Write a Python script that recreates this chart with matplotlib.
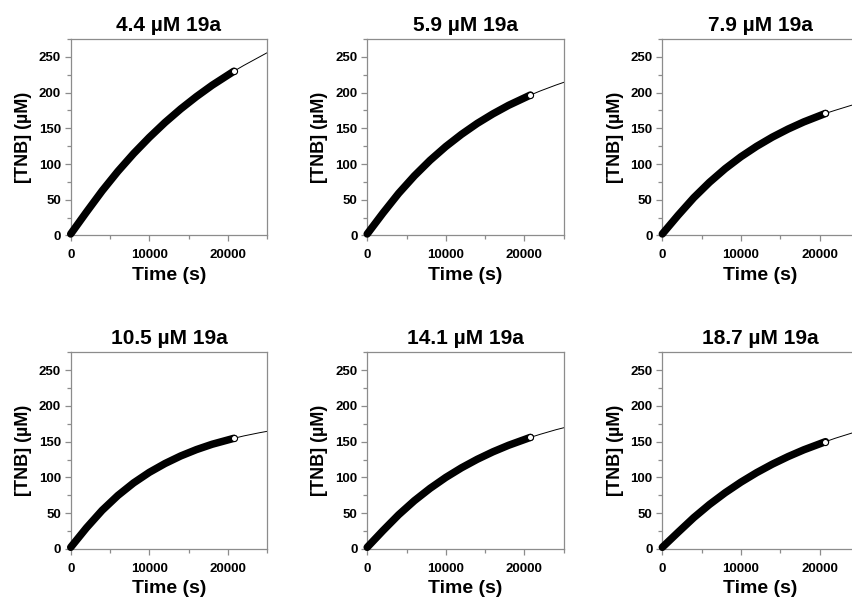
import matplotlib
matplotlib.use('Agg')
import matplotlib.pyplot as plt
from matplotlib.ticker import MultipleLocator

plt.rcParams['font.family'] = ['Liberation Sans', 'DejaVu Sans']
plt.rcParams['font.weight'] = 'bold'

titles = ['4.4 µM 19a', '5.9 µM 19a', '7.9 µM 19a',
          '10.5 µM 19a', '14.1 µM 19a', '18.7 µM 19a']

# measured time points (s), last one is the open circle
t_data = [0, 2000, 4000, 6000, 8000, 10000, 12000, 14000, 16000, 18000, 20760]
# fit line time points (s)
t_fit = [0, 2000, 4000, 6000, 8000, 10000, 12000, 14000, 16000, 18000, 20760, 22000, 24000, 25000]

tnb_44 = [2, 32.6, 62.4, 89.7, 114.6, 137.3, 158.2, 177.2, 194.5, 210.4, 230.0]
tnb_59 = [2, 31.2, 58.9, 83.4, 105.2, 124.5, 141.6, 156.9, 170.3, 182.3, 196.6]
tnb_79 = [2, 28.1, 52.8, 74.4, 93.5, 110.2, 124.8, 137.7, 149.0, 159.0, 170.9]
tnb_105 = [2, 29.2, 53.8, 74.6, 92.2, 107.0, 119.4, 130.0, 138.9, 146.4, 154.7]
tnb_141 = [2, 25.3, 47.6, 67.3, 84.6, 99.9, 113.4, 125.3, 135.8, 145.0, 156.0]
tnb_187 = [2, 23.0, 43.6, 62.0, 78.5, 93.3, 106.6, 118.5, 129.1, 138.6, 150.0]

fit_44 = [0, 32.6, 62.4, 89.7, 114.6, 137.3, 158.2, 177.2, 194.5, 210.4, 230.0, 238.0, 250.0, 256.0]
fit_59 = [0, 31.2, 58.9, 83.4, 105.2, 124.5, 141.6, 156.9, 170.3, 182.3, 196.6, 202.3, 210.6, 214.4]
fit_79 = [0, 28.1, 52.8, 74.4, 93.5, 110.2, 124.8, 137.7, 149.0, 159.0, 170.9, 175.3, 182.1, 185.1]
fit_105 = [0, 29.2, 53.8, 74.6, 92.2, 107.0, 119.4, 130.0, 138.9, 146.4, 154.7, 158.0, 162.5, 164.5]
fit_141 = [0, 25.3, 47.6, 67.3, 84.6, 99.9, 113.4, 125.3, 135.8, 145.0, 156.0, 160.3, 166.7, 169.5]
fit_187 = [0, 23.0, 43.6, 62.0, 78.5, 93.3, 106.6, 118.5, 129.1, 138.6, 150.0, 154.8, 161.7, 164.8]

data = [tnb_44, tnb_59, tnb_79, tnb_105, tnb_141, tnb_187]
fits = [fit_44, fit_59, fit_79, fit_105, fit_141, fit_187]

fig = plt.figure(figsize=(8.52, 6.02), dpi=100)

lefts = [0.083, 0.431, 0.7774]
bottoms = [0.609, 0.0885]
w, h = 0.2306, 0.326
spine_col = '#8c8c8c'

for i in range(6):
    ax = fig.add_axes([lefts[i % 3], bottoms[i // 3], w, h])
    ax.plot(t_fit, fits[i], color='black', lw=0.7, zorder=2)
    ax.plot(t_data, data[i], color='black', lw=5.4, solid_capstyle='round',
            solid_joinstyle='round', zorder=3, clip_on=False)
    ax.plot(t_data[-1], data[i][-1], 'o', ms=4.4, mfc='white', mec='black',
            mew=0.8, zorder=4)

    ax.set_xlim(0, 25000)
    ax.set_ylim(0, 275)
    ax.set_xticks([0, 10000, 20000])
    ax.xaxis.set_minor_locator(MultipleLocator(5000))
    ax.set_yticks([0, 50, 100, 150, 200, 250])
    ax.yaxis.set_minor_locator(MultipleLocator(25))
    for s in ax.spines.values():
        s.set_color(spine_col)
        s.set_linewidth(0.9)
    ax.tick_params(which='both', direction='out', color=spine_col, width=0.9,
                   labelsize=9.5, pad=3)
    ax.tick_params(axis='x', which='major', pad=6)
    ax.tick_params(which='major', length=4)
    ax.tick_params(which='minor', length=3)
    for lab in ax.get_xticklabels() + ax.get_yticklabels():
        lab.set_fontweight('bold')

    ax.set_title(titles[i], fontsize=15, fontweight='bold', pad=6)
    ax.set_xlabel('Time (s)', fontsize=14, fontweight='bold', labelpad=4)
    ax.set_ylabel('[TNB] (µM)', fontsize=13, fontweight='bold', labelpad=5)

fig.savefig('out.png', dpi=100)
